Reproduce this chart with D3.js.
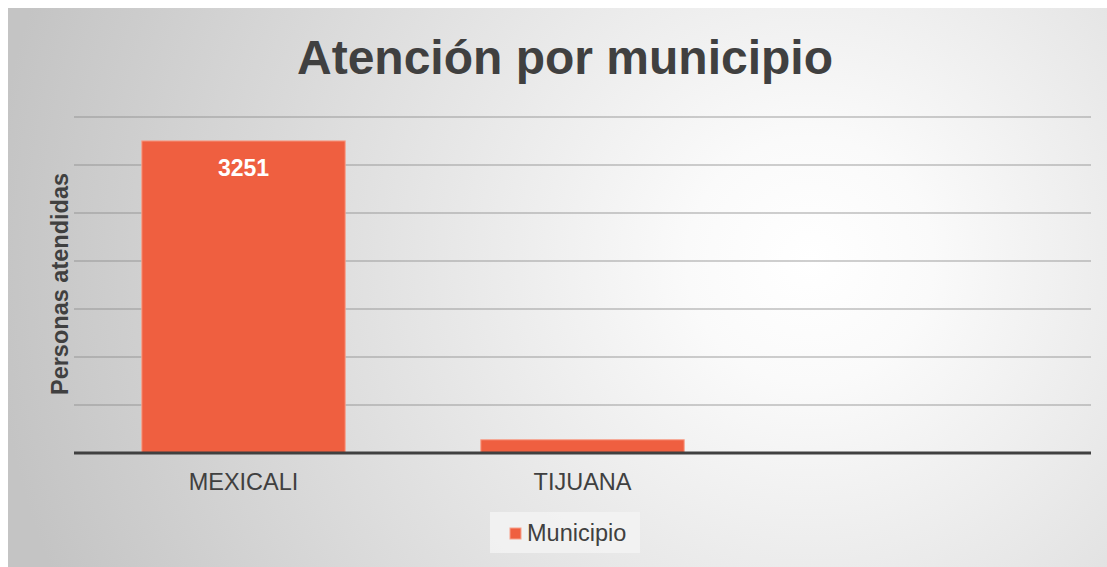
<!DOCTYPE html>
<html><head><meta charset="utf-8">
<script src="https://cdn.jsdelivr.net/npm/d3@7"></script>
<style>html,body{margin:0;padding:0;background:#fff;}svg{display:block;}</style>
</head><body>
<svg id="c" width="1107" height="567"></svg>
<script>
const categories = ["MEXICALI", "TIJUANA", ""];
const values = [3251, 138, null];
const seriesName = "Municipio";
const yTicks = [0, 500, 1000, 1500, 2000, 2500, 3000, 3500];
const title = "Atención por municipio";
const yTitle = "Personas atendidas";

const svg = d3.select("#c");
const defs = svg.append("defs");
const grad = defs.append("radialGradient").attr("id", "bg")
  .attr("gradientUnits", "userSpaceOnUse")
  .attr("cx", 810).attr("cy", 260).attr("r", 820);
grad.append("stop").attr("offset", "0").attr("stop-color", "#ffffff");
grad.append("stop").attr("offset", "0.15").attr("stop-color", "#fafafa");
grad.append("stop").attr("offset", "1").attr("stop-color", "#c4c4c4");

svg.append("rect").attr("x", 8).attr("y", 8).attr("width", 1099).attr("height", 559)
  .attr("fill", "url(#bg)");

const m = {left: 74, right: 1091, top: 117, bottom: 453};
const x = d3.scaleBand().domain(categories).range([m.left, m.right]).paddingInner(0.4).paddingOuter(0.2);
const y = d3.scaleLinear().domain([0, 3500]).range([m.bottom, m.top]);
const font = "Liberation Sans, Arial, sans-serif";

// gridlines
svg.append("g").selectAll("line").data(yTicks.filter(d => d > 0)).join("line")
  .attr("x1", m.left).attr("x2", m.right)
  .attr("y1", d => y(d)).attr("y2", d => y(d))
  .attr("stroke", "#8a8a8a").attr("stroke-opacity", 0.55).attr("stroke-width", 1.3);

// bars
const data = categories.map((c, i) => ({c, v: values[i]})).filter(d => d.v != null);
svg.append("g").selectAll("rect").data(data).join("rect")
  .attr("x", d => x(d.c)).attr("width", x.bandwidth())
  .attr("y", d => y(d.v)).attr("height", d => y(0) - y(d.v))
  .attr("fill", "#ef5f40").attr("stroke", "#f7a08a").attr("stroke-width", 1);

// baseline axis
svg.append("line").attr("x1", m.left).attr("x2", m.right)
  .attr("y1", y(0)).attr("y2", y(0)).attr("stroke", "#404040").attr("stroke-width", 3);

// x axis labels
const xAxis = d3.axisBottom(x).tickSize(0).tickPadding(0);
const gx = svg.append("g").attr("transform", `translate(0,${y(0)})`).call(xAxis);
gx.select(".domain").remove();
gx.selectAll("text").attr("dy", 0).attr("y", 37)
  .attr("font-family", font).attr("font-size", 23.5)
  .attr("fill", "#404040");

// data label
svg.append("g").selectAll("text").data(data.filter(d => d.v > 1000)).join("text")
  .attr("x", d => x(d.c) + x.bandwidth() / 2).attr("y", d => y(d.v) + 35)
  .attr("text-anchor", "middle").attr("font-family", font)
  .attr("font-weight", "bold").attr("font-size", 23).attr("fill", "#ffffff")
  .text(d => d.v);

// title
svg.append("text").attr("x", 565).attr("y", 74).attr("text-anchor", "middle")
  .attr("font-family", font).attr("font-weight", "bold")
  .attr("font-size", 48).attr("fill", "#404040").text(title);

// y title
svg.append("text").attr("transform", "translate(68,284) rotate(-90)").attr("text-anchor", "middle")
  .attr("font-family", font).attr("font-weight", "bold")
  .attr("font-size", 23.5).attr("fill", "#404040").text(yTitle);

// legend
const lg = svg.append("g");
lg.append("rect").attr("x", 490).attr("y", 512).attr("width", 150).attr("height", 41)
  .attr("fill", "#f4f4f4").attr("fill-opacity", 0.8);
lg.append("rect").attr("x", 510).attr("y", 528).attr("width", 11).attr("height", 11)
  .attr("fill", "#ef5f40").attr("stroke", "#f7a08a").attr("stroke-width", 1);
lg.append("text").attr("x", 527).attr("y", 541)
  .attr("font-family", font).attr("font-size", 23.5)
  .attr("fill", "#404040").text(seriesName);
</script>
</body></html>
